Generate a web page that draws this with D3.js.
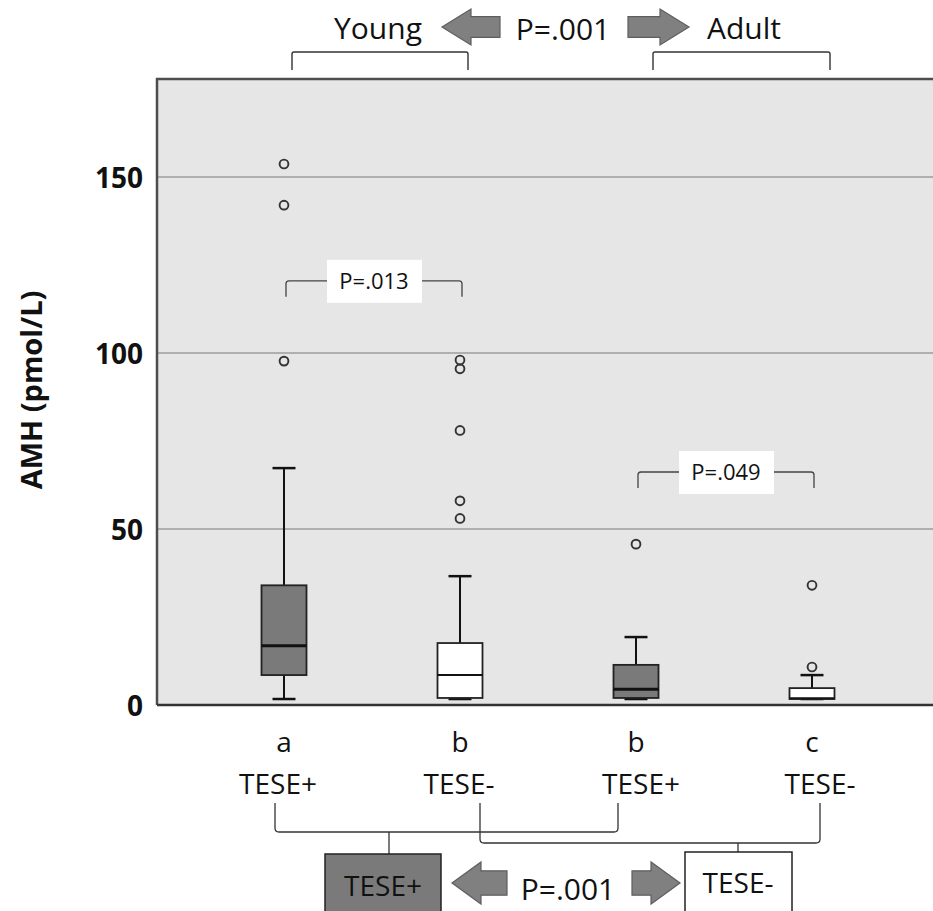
<!DOCTYPE html>
<html>
<head>
<meta charset="utf-8">
<script src="https://cdn.jsdelivr.net/npm/d3@7"></script>
<style>
  body { margin: 0; background: #fff; }
  text { font-family: "Open Sans", sans-serif; fill: #111; }
</style>
</head>
<body>
<script>
// data
const groups = ['a', 'b', 'b', 'c']
const tese = ['TESE+', 'TESE-', 'TESE+', 'TESE-']
const whiskerLow = [1.7, 1.7, 1.7, 1.7]
const q1 = [8.5, 2.0, 2.0, 1.7]
const median = [16.8, 8.5, 4.5, 1.9]
const q3 = [34, 17.6, 11.4, 4.8]
const whiskerHigh = [67.3, 36.6, 19.3, 8.5]
const outliers = [[153.7, 142, 97.7], [98, 95.5, 78, 58, 53], [45.7], [34, 10.8]]
const yTicks = [0, 50, 100, 150]

// styles
const boxFill = ['#7a7a7a', '#ffffff', '#7a7a7a', '#ffffff']
const arrowFill = '#808080'

const width = 933, height = 911
const plot = {left: 157, top: 79, right: 933, bottom: 705}

const svg = d3.select('body').append('svg')
    .attr('width', width)
    .attr('height', height)

const x = d3.scaleBand()
    .domain(d3.range(groups.length))
    .range([196, 900])
const cx = i => x(i) + x.bandwidth() / 2

const y = d3.scaleLinear()
    .domain([0, 50])
    .range([plot.bottom, plot.bottom - 176])

// plot background
svg.append('rect')
    .attr('x', plot.left).attr('y', plot.top)
    .attr('width', plot.right - plot.left)
    .attr('height', plot.bottom - plot.top)
    .attr('fill', '#e6e6e6')

// gridlines
svg.append('g').selectAll('line').data(yTicks.filter(d => d > 0))
  .enter().append('line')
    .attr('x1', plot.left).attr('x2', plot.right)
    .attr('y1', d => y(d)).attr('y2', d => y(d))
    .attr('stroke', '#9c9c9c').attr('stroke-width', 1.4)

// y axis
const yAxisG = svg.append('g')
    .attr('transform', `translate(${plot.left},0)`)
    .call(d3.axisLeft(y).tickValues(yTicks).tickSize(0).tickPadding(14))
yAxisG.select('.domain').remove()
yAxisG.selectAll('text')
    .style('font-family', '"Open Sans", sans-serif')
    .style('font-size', '28px')
    .style('font-weight', 'bold')
    .attr('fill', '#111')
    .attr('dy', '0.36em')

svg.append('text')
    .attr('transform', 'translate(42,390) rotate(-90)')
    .attr('text-anchor', 'middle')
    .style('font-size', '29px')
    .style('font-weight', 'bold')
    .text('AMH (pmol/L)')

// frame
svg.append('path')
    .attr('d', `M${plot.left},${plot.bottom}V${plot.top}H${plot.right}`)
    .attr('fill', 'none').attr('stroke', '#4d4d4d').attr('stroke-width', 2.5)
svg.append('line')
    .attr('x1', plot.left).attr('x2', plot.right)
    .attr('y1', plot.bottom).attr('y2', plot.bottom)
    .attr('stroke', '#333').attr('stroke-width', 2.5)

// boxes
const bw = 45, capW = 23
const boxes = svg.append('g').selectAll('g').data(groups)
  .enter().append('g')

boxes.append('line')
    .attr('x1', (d, i) => cx(i)).attr('x2', (d, i) => cx(i))
    .attr('y1', (d, i) => y(whiskerLow[i])).attr('y2', (d, i) => y(whiskerHigh[i]))
    .attr('stroke', '#111').attr('stroke-width', 2)
boxes.append('line')
    .attr('x1', (d, i) => cx(i) - capW / 2).attr('x2', (d, i) => cx(i) + capW / 2)
    .attr('y1', (d, i) => y(whiskerHigh[i])).attr('y2', (d, i) => y(whiskerHigh[i]))
    .attr('stroke', '#111').attr('stroke-width', 2.5)
boxes.append('line')
    .attr('x1', (d, i) => cx(i) - capW / 2).attr('x2', (d, i) => cx(i) + capW / 2)
    .attr('y1', (d, i) => y(whiskerLow[i])).attr('y2', (d, i) => y(whiskerLow[i]))
    .attr('stroke', '#111').attr('stroke-width', 2.5)
boxes.append('rect')
    .attr('x', (d, i) => cx(i) - bw / 2)
    .attr('y', (d, i) => y(q3[i]))
    .attr('width', bw)
    .attr('height', (d, i) => y(q1[i]) - y(q3[i]))
    .attr('fill', (d, i) => boxFill[i])
    .attr('stroke', '#222').attr('stroke-width', 1.8)
boxes.append('line')
    .attr('x1', (d, i) => cx(i) - bw / 2).attr('x2', (d, i) => cx(i) + bw / 2)
    .attr('y1', (d, i) => y(median[i])).attr('y2', (d, i) => y(median[i]))
    .attr('stroke', '#111').attr('stroke-width', (d, i) => i % 2 ? 2 : 3)

// outliers
boxes.each(function(d, i) {
    d3.select(this).selectAll('circle').data(outliers[i])
      .enter().append('circle')
        .attr('cx', cx(i))
        .attr('cy', v => y(v))
        .attr('r', 4.4)
        .attr('fill', 'none')
        .attr('stroke', '#333').attr('stroke-width', 1.9)
})

// bracket helper (rounded ends)
const bracket = (x1, x2, yTop, yEnd, r) =>
    `M${x1},${yEnd}V${yTop + r}Q${x1},${yTop} ${x1 + r},${yTop}H${x2 - r}Q${x2},${yTop} ${x2},${yTop + r}V${yEnd}`
const bracketUp = (x1, x2, yBot, yEnd, r) =>
    `M${x1},${yEnd}V${yBot - r}Q${x1},${yBot} ${x1 + r},${yBot}H${x2 - r}Q${x2},${yBot} ${x2},${yBot - r}V${yEnd}`

// in-plot p-value brackets
const pairs = [
    {a: 0, b: 1, v: 120.5, label: 'P=.013'},
    {a: 2, b: 3, v: 66.2, label: 'P=.049'}
]
pairs.forEach(p => {
    const x1 = cx(p.a) + 2, x2 = cx(p.b) + 2, yy = y(p.v)
    svg.append('path')
        .attr('d', bracket(x1, x2, yy, yy + 16, 3))
        .attr('fill', 'none').attr('stroke', '#444').attr('stroke-width', 1.3)
    const mid = (x1 + x2) / 2
    svg.append('rect')
        .attr('x', mid - 47).attr('y', yy - 21)
        .attr('width', 95).attr('height', 43)
        .attr('fill', '#fff')
    svg.append('text')
        .attr('x', mid).attr('y', yy + 8)
        .attr('text-anchor', 'middle')
        .style('font-size', '22px')
        .text(p.label)
})

// block arrow
const arrow = (x0, x1, yc, h, dir) => {
    const headW = 29, shaftH = h * 0.58
    const g = svg.append('path')
    let pts
    if (dir < 0) {
        pts = [[x0, yc], [x0 + headW, yc - h / 2], [x0 + headW, yc - shaftH / 2], [x1, yc - shaftH / 2],
               [x1, yc + shaftH / 2], [x0 + headW, yc + shaftH / 2], [x0 + headW, yc + h / 2]]
    } else {
        pts = [[x1, yc], [x1 - headW, yc - h / 2], [x1 - headW, yc - shaftH / 2], [x0, yc - shaftH / 2],
               [x0, yc + shaftH / 2], [x1 - headW, yc + shaftH / 2], [x1 - headW, yc + h / 2]]
    }
    g.attr('d', d3.line()(pts) + 'Z')
        .attr('fill', arrowFill).attr('stroke', '#5e5e5e').attr('stroke-width', 1.2)
}

// top: Young / Adult
svg.append('text').attr('x', 378).attr('y', 39).attr('text-anchor', 'middle')
    .style('font-size', '30px').text('Young')
svg.append('text').attr('x', 563).attr('y', 40).attr('text-anchor', 'middle')
    .style('font-size', '30px').text('P=.001')
svg.append('text').attr('x', 744).attr('y', 39).attr('text-anchor', 'middle')
    .style('font-size', '30px').text('Adult')
arrow(442, 500, 27, 36, -1)
arrow(628, 689, 27, 36, 1)

svg.append('path')
    .attr('d', bracket(cx(0) + 8, cx(1) + 8, 52, 70, 2))
    .attr('fill', 'none').attr('stroke', '#333').attr('stroke-width', 1.4)
svg.append('path')
    .attr('d', bracket(cx(2) + 17, cx(3) + 18, 52, 70, 2))
    .attr('fill', 'none').attr('stroke', '#333').attr('stroke-width', 1.4)

// bottom category labels
svg.append('g').selectAll('text').data(groups)
  .enter().append('text')
    .attr('x', (d, i) => cx(i))
    .attr('y', 752)
    .attr('text-anchor', 'middle')
    .style('font-size', '28px')
    .text(d => d)
svg.append('g').selectAll('text').data(tese)
  .enter().append('text')
    .attr('x', (d, i) => cx(i) + [-6, -1, 5, 8][i])
    .attr('y', 794)
    .attr('text-anchor', 'middle')
    .style('font-size', '28px')
    .text(d => d)

// bottom brackets
svg.append('path')
    .attr('d', bracketUp(cx(0) - 9, cx(2) - 18, 832, 803, 4))
    .attr('fill', 'none').attr('stroke', '#333').attr('stroke-width', 1.3)
svg.append('line')
    .attr('x1', 389).attr('x2', 389).attr('y1', 832).attr('y2', 854)
    .attr('stroke', '#333').attr('stroke-width', 1.3)
svg.append('path')
    .attr('d', bracketUp(cx(1) + 20, cx(3) + 8, 843, 803, 4))
    .attr('fill', 'none').attr('stroke', '#333').attr('stroke-width', 1.3)
svg.append('line')
    .attr('x1', 738).attr('x2', 738).attr('y1', 843).attr('y2', 852)
    .attr('stroke', '#333').attr('stroke-width', 1.3)

// bottom boxes
svg.append('rect')
    .attr('x', 325).attr('y', 854).attr('width', 116).attr('height', 70)
    .attr('fill', '#7a7a7a').attr('stroke', '#222').attr('stroke-width', 1.5)
svg.append('text').attr('x', 383).attr('y', 896).attr('text-anchor', 'middle')
    .style('font-size', '28px').text('TESE+')
svg.append('rect')
    .attr('x', 685).attr('y', 852).attr('width', 107).attr('height', 70)
    .attr('fill', '#fff').attr('stroke', '#222').attr('stroke-width', 1.5)
svg.append('text').attr('x', 738).attr('y', 893).attr('text-anchor', 'middle')
    .style('font-size', '28px').text('TESE-')

svg.append('text').attr('x', 568).attr('y', 900).attr('text-anchor', 'middle')
    .style('font-size', '30px').text('P=.001')
arrow(452, 507, 883, 42, -1)
arrow(632, 680, 883, 42, 1)
</script>
</body>
</html>
